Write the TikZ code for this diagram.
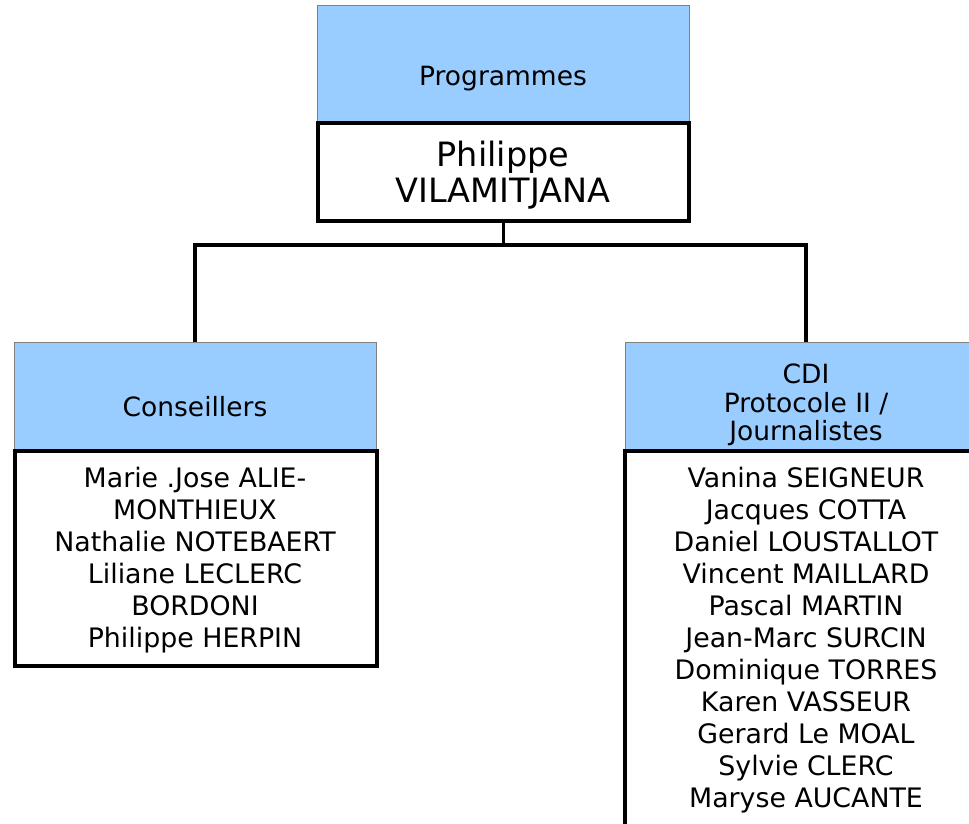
\documentclass[tikz,border=0pt]{standalone}
\usepackage{fontspec}
\setmainfont{DejaVu Sans}
\definecolor{hdrblue}{HTML}{99CCFF}
\definecolor{hdrline}{HTML}{808080}
\begin{document}
\begin{tikzpicture}[x=1pt,y=-1pt,
  bluebox/.style={draw=hdrline, line width=0.8pt, fill=hdrblue, rectangle, inner sep=0pt, outer sep=0pt, anchor=north west},
  whitebox/.style={draw=black, line width=4pt, fill=white, rectangle, inner sep=0pt, outer sep=0pt, anchor=north west},
  hdrtext/.style={font=\fontsize{26.5}{28.5}\selectfont, align=center, inner sep=0pt, text=black},
  nametext/.style={font=\fontsize{26.8}{32}\selectfont, align=center, inner sep=0pt, text=black},
  bigtext/.style={font=\fontsize{33.5}{36}\selectfont, align=center, inner sep=0pt, text=black},
  link/.style={draw=black, line width=3.5pt}]
\useasboundingbox (0,0) rectangle (969,823);
\clip (0,0) rectangle (969,823);
\fill[white] (0,0) rectangle (969,823);
% top
\node[bluebox, minimum width=372pt, minimum height=116pt] (progb) at (317,5) {};
\node[whitebox, minimum width=371pt, minimum height=98pt] (progw) at (318,123) {};
\node[hdrtext] (progt) at (503,79) {Programmes};
\node[bigtext] (phil) at (503,175) {Philippe\\VILAMITJANA};
% left
\node[bluebox, minimum width=362pt, minimum height=108pt] (consb) at (14,342) {};
\node[whitebox, minimum width=362pt, minimum height=215pt] (consw) at (14.5,451) {};
\node[hdrtext] (const) at (195,407) {Conseillers};
\node[nametext] (consn) at (195,560) {Marie .Jose ALIE-\\MONTHIEUX\\Nathalie NOTEBAERT\\Liliane LECLERC\\BORDONI\\Philippe HERPIN};
% right
\node[bluebox, minimum width=362pt, minimum height=108pt] (cdib) at (625,342) {};
\node[whitebox, minimum width=362pt, minimum height=420pt] (cdiw) at (625,451) {};
\node[hdrtext] (cdit) at (806,405) {CDI\\Protocole II /\\Journalistes};
\node[nametext] (cdin) at (806,640) {Vanina SEIGNEUR\\Jacques COTTA\\Daniel LOUSTALLOT\\Vincent MAILLARD\\Pascal MARTIN\\Jean-Marc SURCIN\\Dominique TORRES\\Karen VASSEUR\\Gerard Le MOAL\\Sylvie CLERC\\Maryse AUCANTE};
% connectors
\path (progw.south) ++(0,24) coordinate (j);
\draw[link] (progw.south) -- (j);
\draw[link] (j) -| (consb.north);
\draw[link] (j) -| (cdib.north);
\end{tikzpicture}
\end{document}
